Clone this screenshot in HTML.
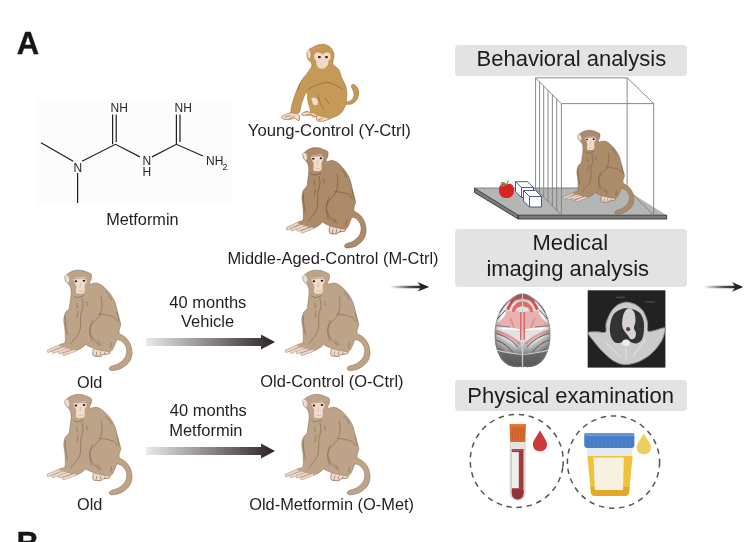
<!DOCTYPE html>
<html><head><meta charset="utf-8">
<style>
html,body{margin:0;padding:0;background:#fff;width:750px;height:542px;overflow:hidden}
svg{display:block;will-change:transform}
text{font-family:"Liberation Sans",sans-serif;fill:#231f20}
.lb{font-size:16.3px}
.bx{font-size:22px;fill:#1c1c1c}
</style></head><body>
<svg width="750" height="542" viewBox="0 0 750 542">
<defs>
 <linearGradient id="ag" x1="0" x2="1" y1="0" y2="0">
  <stop offset="0" stop-color="#ebe9e9"/><stop offset="1" stop-color="#2a2223"/>
 </linearGradient>
 <linearGradient id="ag2" x1="0" x2="1" y1="0" y2="0">
  <stop offset="0" stop-color="#f4f4f4"/><stop offset="0.5" stop-color="#555"/><stop offset="0.75" stop-color="#2a2a2a"/><stop offset="1" stop-color="#1a1a1a"/>
 </linearGradient>
 <g id="monkey">
<path fill="var(--mb)" stroke="var(--ml)" stroke-width="0.6" d="M69.3,272.7 C70.7,271.9 72.6,271.0 74.3,270.6 C76.0,270.2 78.0,270.1 79.7,270.2 C81.4,270.3 82.8,270.5 84.3,271.0 C85.8,271.5 87.8,272.4 89.0,273.0 C90.2,273.6 90.9,273.4 91.3,274.3 C91.7,275.2 91.6,277.4 91.3,278.7 C91.0,280.0 89.9,281.1 89.7,282.0 C89.5,282.9 88.9,283.8 90.0,284.0 C91.1,284.2 94.2,282.8 96.1,283.0 C98.0,283.2 99.8,284.0 101.6,285.2 C103.4,286.4 105.4,288.4 107.1,290.2 C108.8,291.9 110.2,293.7 111.5,295.7 C112.8,297.7 114.0,299.9 114.9,302.3 C115.8,304.7 116.4,307.3 117.1,310.1 C117.8,312.9 118.7,316.5 119.3,318.9 C119.9,321.3 120.8,322.8 120.8,324.5 C120.8,326.2 119.6,327.5 119.4,329.0 C119.2,330.5 118.5,332.0 119.4,333.3 C120.3,334.6 123.2,335.5 124.9,337.0 C126.6,338.5 128.3,340.4 129.5,342.5 C130.7,344.6 131.5,347.4 131.8,349.9 C132.1,352.4 132.1,355.0 131.4,357.3 C130.7,359.6 129.4,361.9 127.7,363.7 C126.0,365.5 123.4,367.3 121.2,368.4 C119.0,369.5 116.6,369.9 114.8,370.2 C113.0,370.5 111.5,370.7 110.6,370.4 C109.7,370.1 109.0,368.9 109.2,368.2 C109.4,367.5 110.0,366.9 111.5,366.1 C113.0,365.4 116.3,364.9 118.4,363.7 C120.5,362.5 122.6,360.9 124.0,359.1 C125.4,357.3 126.4,354.9 126.7,352.7 C127.0,350.5 126.6,348.0 125.8,346.2 C125.0,344.4 123.5,342.7 122.1,341.6 C120.7,340.5 118.6,339.7 117.5,339.8 C116.4,339.9 116.5,341.0 115.7,342.5 C114.9,344.0 113.8,347.5 112.9,349.0 C112.0,350.5 111.0,350.7 110.4,351.5 C109.8,352.3 110.6,353.1 109.2,353.6 C107.8,354.2 103.2,354.3 101.8,354.8 C100.4,355.3 102.3,356.3 100.9,356.4 C99.5,356.5 94.8,356.5 93.5,355.6 C92.2,354.7 93.1,352.0 93.1,350.8 C93.1,349.6 94.3,349.3 93.5,348.5 C92.7,347.7 89.3,346.6 88.0,346.0 C86.7,345.4 86.3,344.5 85.6,344.6 C84.9,344.7 84.8,345.8 83.6,346.6 C82.4,347.5 79.9,349.1 78.5,349.7 C77.1,350.3 76.8,350.7 75.0,350.5 C73.2,350.3 70.3,349.3 68.0,348.5 C65.7,347.7 62.3,346.2 61.0,345.5 C59.7,344.8 59.4,345.0 60.0,344.5 C60.6,344.0 63.9,344.1 64.8,342.6 C65.7,341.1 65.3,338.1 65.3,335.5 C65.3,332.9 65.0,329.9 64.8,327.3 C64.5,324.8 63.7,322.6 63.8,320.2 C63.9,317.8 64.4,315.0 65.3,313.1 C66.2,311.2 68.2,310.3 68.9,309.1 C69.6,307.9 69.2,308.2 69.6,305.9 C69.9,303.6 70.8,298.2 71.0,295.5 C71.2,292.8 71.2,291.3 71.0,289.6 C70.8,287.9 70.2,286.3 69.6,285.2 C69.0,284.1 68.1,283.7 67.4,283.0 C66.7,282.3 65.9,281.9 65.5,280.8 C65.1,279.7 64.7,277.4 64.8,276.5 C64.9,275.6 65.2,275.9 66.0,275.3 C66.8,274.7 67.9,273.5 69.3,272.7 Z"/>
<path fill="#f0dccf" d="M73.7,278.4 C74.4,277.9 77.5,277.7 79.0,277.6 C80.5,277.5 84.1,276.8 85.1,277.3 C86.1,277.8 86.7,280.4 86.6,281.5 C86.5,282.6 85.0,283.8 84.7,285.2 C84.4,286.6 85.1,291.1 84.6,292.2 C84.1,293.3 81.8,293.7 80.7,293.8 C79.6,293.9 76.8,293.9 76.2,292.8 C75.6,291.7 76.5,287.4 76.2,285.9 C75.9,284.4 74.3,282.5 74.0,281.5 C73.7,280.5 73.0,278.9 73.7,278.4 Z"/>
<path fill="#f0dccf" d="M65.0,275.6 C65.2,274.9 67.2,275.3 67.8,275.8 C68.4,276.3 69.2,278.1 69.3,279.0 C69.4,279.9 68.9,282.5 68.5,282.8 C68.1,283.1 66.5,282.0 66.0,281.0 C65.5,280.0 64.8,276.3 65.0,275.6 Z"/>
<g stroke-linecap="round" fill="none"><path stroke="var(--ml)" stroke-width="3.2" opacity="0.7" d="M61,345.5 L48.4,351 M66.3,347.1 L53.2,352 M70,348.7 L59.6,352.4 M74.9,350.3 L63.9,354.3"/><path stroke="#ecd5c6" stroke-width="2.2" d="M61,345.5 L48.4,351 M66.3,347.1 L53.2,352 M70,348.7 L59.6,352.4 M74.9,350.3 L63.9,354.3"/></g>
<path fill="var(--mb)" d="M58.5,345.5 C62,342.5 70,343 78,346 C80,347 80,349 77,350 C72,350 66,348.5 58.5,345.5 Z" opacity="0.85"/>
<path fill="#f0dccf" stroke="var(--ml)" stroke-width="0.5" d="M93.5,348.8 C94.2,348.7 98.4,349.9 100.0,350.2 C101.6,350.5 108.3,351.5 109.2,351.8 C110.1,352.1 109.9,353.3 109.2,353.6 C108.5,353.9 102.6,354.5 101.8,354.8 C101.0,355.1 101.7,356.1 100.9,356.2 C100.1,356.3 94.3,356.1 93.5,355.6 C92.7,355.1 93.1,351.5 93.1,350.8 C93.1,350.1 92.8,348.9 93.5,348.8 Z"/>
<path stroke="var(--ml)" stroke-width="0.7" fill="none" d="M96,355.5 L97,351.5 M100,355 L101,351.5 M104.5,354.5 L105,352"/>
<path stroke="var(--ml)" stroke-width="0.8" fill="none" d="M101.2,296.5 C101.3,298.1 102.2,303.0 102.0,306.1 C101.8,309.2 100.8,312.6 99.7,315.0 C98.6,317.4 96.7,318.6 95.2,320.5 C93.7,322.4 91.7,324.1 90.8,326.1 C89.9,328.1 89.5,330.1 89.7,332.7 C89.9,335.3 91.5,340.1 91.9,341.6 M98.5,313.9 C99.8,314.1 103.7,314.4 106.3,315.0 C108.9,315.6 112.2,316.1 114.0,317.2 C115.8,318.3 116.8,320.9 117.4,321.7 M81.9,298.4 C82.1,299.7 83.2,303.3 83.0,306.1 C82.8,308.9 81.2,311.4 80.8,315.0 C80.4,318.6 80.9,324.8 80.4,328.0 C79.9,331.2 79.3,332.1 78.0,334.4 C76.7,336.7 73.6,340.0 72.4,341.6 C71.2,343.2 71.1,343.6 70.8,344.0 M92.4,320.0 C92.0,321.3 90.3,325.6 90.0,328.0 C89.7,330.4 90.1,332.4 90.8,334.4 C91.5,336.4 92.5,338.1 94.0,340.0 C95.5,341.9 98.7,344.7 99.6,345.6 M97.2,340.0 C97.9,340.9 100.5,344.7 101.2,345.6 M73.0,295.5 C73.7,295.8 75.2,297.5 77.0,297.5 C78.8,297.5 82.9,295.9 84.1,295.6 M105.5,291.5 C106.1,292.2 108.0,294.1 109.0,295.5 C110.0,296.9 111.1,299.2 111.5,300.0 M65.3,316.0 C65.4,317.7 65.4,322.8 65.8,326.0 C66.2,329.2 67.2,333.5 67.5,335.0 M76.5,303.0 C76.7,303.8 77.3,307.2 77.5,308.0 M78.0,311.0 C77.8,312.2 77.2,316.8 77.0,318.0 M86.5,301.0 C86.7,301.8 87.3,305.2 87.5,306.0 M117.0,312.0 C117.2,313.0 118.1,316.3 118.5,318.0 C118.9,319.7 119.3,321.3 119.5,322.0 M111.5,342.4 C111.3,343.3 110.7,347.1 110.5,348.0"/>
<ellipse cx="75.9" cy="281.3" rx="1.3" ry="1" fill="#2a2020"/><ellipse cx="84" cy="280.8" rx="1.3" ry="1" fill="#2a2020"/>
<path stroke="#c9a896" stroke-width="0.6" fill="none" d="M78,290.5 C80,291.5 82,291.5 83.5,290.5 M80.5,282.5 L80,287.5"/>
<path stroke="var(--mb)" stroke-width="1.3" fill="none" opacity="0.9" d="M73.8,278.9 C77,278.2 82,277.8 86.3,278.3"/>
 </g>
</defs>

<!-- A label -->
<text x="16.7" y="53.7" style="font-size:31px;font-weight:bold;fill:#161616;stroke:#161616;stroke-width:0.35;stroke-linejoin:round">A</text>

<!-- metformin molecule -->
<rect x="37" y="98.6" width="194" height="106.6" fill="#fcfcfc"/>
<g stroke="#231f20" stroke-width="1.2" fill="none">
 <path d="M41,142.7 L73.2,161.3"/>
 <path d="M77.6,173 L77.6,203"/>
 <path d="M82,161.3 L115.5,144.3 L139.9,156.9"/>
 <path d="M152,156.9 L176.4,144.3 L203,156"/>
 <path d="M112.6,114.4 V144.3 M116.2,114.4 V142"/>
 <path d="M176.4,114.4 V144.3 M180,114.4 V142"/>
</g>
<g style="font-size:12px">
 <text x="73.5" y="171.5">N</text>
 <text x="110.5" y="112.2">NH</text>
 <text x="174.5" y="112.2">NH</text>
 <text x="142.5" y="165.3">N</text>
 <text x="142.5" y="176">H</text>
 <text x="206" y="165.3">NH</text>
 <text x="222.6" y="169.6" style="font-size:9px">2</text>
</g>
<text class="lb" x="106.2" y="225.4">Metformin</text>

<!-- monkeys -->
<use href="#monkey" style="--mb:#bda387;--ml:#8e7259"/>
<use href="#monkey" transform="translate(238,0)" style="--mb:#bda387;--ml:#8e7259"/>
<use href="#monkey" transform="translate(0,124.3)" style="--mb:#bda387;--ml:#8e7259"/>
<use href="#monkey" transform="translate(238,124.3)" style="--mb:#bda387;--ml:#8e7259"/>
<use href="#monkey" transform="translate(302.5,-122.5) scale(0.94,1) translate(-64.4,0)" style="--mb:#ad8a68;--ml:#7a5d43"/>

<!-- labels -->
<text class="lb" x="247.8" y="135.8" style="font-size:16.7px">Young-Control (Y-Ctrl)</text>
<text class="lb" x="227.6" y="263.5" style="font-size:16.45px">Middle-Aged-Control (M-Ctrl)</text>
<text class="lb" x="77" y="387.6">Old</text>
<text class="lb" x="169.3" y="307.5" style="font-size:16.5px">40 months</text>
<text class="lb" x="181" y="326.8" style="font-size:16.5px">Vehicle</text>
<text class="lb" x="260.2" y="387.4" style="font-size:16.45px">Old-Control (O-Ctrl)</text>
<text class="lb" x="169.8" y="416.2" style="font-size:16.5px">40 months</text>
<text class="lb" x="169.2" y="435.8" style="font-size:16.5px">Metformin</text>
<text class="lb" x="77" y="510.4">Old</text>
<text class="lb" x="249.2" y="510.4" style="font-size:16.4px">Old-Metformin (O-Met)</text>

<!-- arrows -->
<path d="M146,338 H261 V334.4 L275,342 L261,349.6 V346 H146 Z" fill="url(#ag)"/>
<path d="M146,447 H261 V443.4 L275,451 L261,458.6 V455 H146 Z" fill="url(#ag)"/>
<path d="M391,285.7 H420 L417.6,282.1 L429.2,286.9 L417.6,291.6 L420,288.2 H391 Z" fill="url(#ag2)"/>
<path d="M705,285.7 H734.5 L732,282.1 L743.2,286.9 L732,291.8 L734.5,288.2 H705 Z" fill="url(#ag2)"/>

<!-- boxes -->
<rect x="455" y="45" width="232" height="31" rx="4" fill="#e3e3e3"/>
<text class="bx" x="476.6" y="66.3">Behavioral analysis</text>
<rect x="455" y="229" width="232" height="58" rx="4" fill="#e3e3e3"/>
<text class="bx" x="532.4" y="249.5">Medical</text>
<text class="bx" x="486.4" y="276">imaging analysis</text>
<rect x="455" y="380" width="232" height="31" rx="4" fill="#e3e3e3"/>
<text class="bx" x="467.3" y="403.3">Physical examination</text>


<!-- behavioral cage -->
<g id="cage">
 <path d="M474.5,188.2 L623.5,188.2 L666.7,215.2 L518.2,215.2 Z" fill="#b4b6b5"/>
 <path d="M474.5,188.2 L623.5,188.2" stroke="#8a8a8a" stroke-width="1.2"/>
 <path d="M474.5,188.2 L518.2,215.2 L666.7,215.2 L666.7,219 L518.2,219 L474.5,192.5 Z" fill="#7b7b7b" stroke="#333" stroke-width="0.9" stroke-linejoin="round"/>
 <path d="M518.2,215.2 V219" stroke="#222" stroke-width="1"/>
 <!-- apple -->
 <path d="M506.5,184.5 C503,182.5 499,184 499,190 C499,196 503,198.5 506.5,198 C510,198.5 514,196 514,190 C514,184 510,182.5 506.5,184.5 Z" fill="#d42424"/>
 <path d="M501,187 C502,185 504,185 505,186" stroke="#f07070" stroke-width="1" fill="none"/>
 <path d="M506.5,184.5 C505,182 502,181.5 500.5,182.5 C502,184.5 504.5,185 506.5,184.5 Z" fill="#5aa03a"/>
 <path d="M506.5,184.5 L508.5,180.5" stroke="#4a8a2a" stroke-width="1"/>
 <!-- cubes -->
 <g fill="#fff" stroke="#3d4a78" stroke-width="0.9" stroke-linejoin="round">
  <path d="M515.5,181.7 L527.5,181.7 L533.5,187.5 L533.5,197.5 L521.5,197.5 L515.5,191.7 Z"/>
  <path d="M515.5,181.7 L521.5,187.5 L533.5,187.5 M521.5,187.5 V197.5" fill="none"/>
  <path d="M523.5,190.5 L535.5,190.5 L541.5,196.5 L541.5,207 L529.5,207 L523.5,201 Z"/>
  <path d="M523.5,190.5 L529.5,196.5 L541.5,196.5 M529.5,196.5 V207" fill="none"/>
 </g>
 <!-- cage lines -->
 <g stroke="#7c7c7c" stroke-width="0.9" fill="none">
  <path d="M535.3,77.8 H627.1 L653.8,103.6 H561.4 Z"/>
  <path d="M627.1,77.8 V188.3 L653.6,215.2 M653.7,103.6 V215.2"/>
  <path d="M535.6,78.1 V188.6 M539.6,82.1 V192.7 M543.7,86.1 V197.0 M548.0,90.4 V201.4 M552.4,94.7 V206.0 M556.7,99.0 V210.4 M561.4,103.6 V215.3"/>
  <path d="M535.3,188.3 L561.4,215.2"/>
 </g>
</g>
<use href="#monkey" transform="translate(563.5,130.6) scale(0.835) translate(-47.8,-270.5)" style="--mb:#ac8b6a;--ml:#7f634a"/>

<!-- brain -->
<g id="brain">
 <defs>
  <clipPath id="hemi"><path d="M522.0,293.3 C521.2,293.5 519.2,293.7 517.5,294.5 C515.8,295.3 513.5,296.5 511.5,298.0 C509.5,299.5 507.3,301.5 505.5,303.5 C503.7,305.5 501.9,307.6 500.5,310.0 C499.1,312.4 497.9,315.2 497.0,318.0 C496.1,320.8 495.4,324.0 495.0,327.0 C494.6,330.0 494.5,333.0 494.6,336.0 C494.7,339.0 494.9,342.2 495.5,345.0 C496.1,347.8 496.9,350.5 498.0,353.0 C499.1,355.5 500.3,358.0 502.0,360.0 C503.7,362.0 505.8,363.8 508.0,365.0 C510.2,366.2 512.7,366.7 515.0,367.0 C517.3,367.3 520.7,367.0 521.8,367.0 Z"/></clipPath>
  <linearGradient id="bbot" x1="0" y1="0" x2="0" y2="1"><stop offset="0" stop-color="#9a9a9a"/><stop offset="1" stop-color="#555"/></linearGradient>
  <radialGradient id="bshade" gradientUnits="userSpaceOnUse" cx="519" cy="322" r="32"><stop offset="0.55" stop-color="#555" stop-opacity="0"/><stop offset="1" stop-color="#555" stop-opacity="0.65"/></radialGradient>
 </defs>
 <g id="lh" clip-path="url(#hemi)">
  <path d="M522.0,293.3 C521.2,293.5 519.2,293.7 517.5,294.5 C515.8,295.3 513.5,296.5 511.5,298.0 C509.5,299.5 507.3,301.5 505.5,303.5 C503.7,305.5 501.9,307.6 500.5,310.0 C499.1,312.4 497.9,315.2 497.0,318.0 C496.1,320.8 495.4,324.0 495.0,327.0 C494.6,330.0 494.5,333.0 494.6,336.0 C494.7,339.0 494.9,342.2 495.5,345.0 C496.1,347.8 496.9,350.5 498.0,353.0 C499.1,355.5 500.3,358.0 502.0,360.0 C503.7,362.0 505.8,363.8 508.0,365.0 C510.2,366.2 512.7,366.7 515.0,367.0 C517.3,367.3 520.7,367.0 521.8,367.0 Z" fill="#e2e2e2"/>
  <path d="M504.0,312.0 C506.0,311.1 511.6,310.7 514.0,311.0 C516.4,311.3 520.9,311.3 522.0,314.0 C523.1,316.7 523.3,328.9 522.0,331.0 C520.7,333.1 514.7,329.9 512.0,329.5 C509.3,329.1 503.9,328.6 502.0,328.0 C500.1,327.4 497.9,326.3 497.5,325.0 C497.1,323.7 498.1,319.7 499.0,318.0 C499.9,316.3 502.0,312.9 504.0,312.0 Z" fill="#e9b0b0"/>
  <path d="M522.0,294.0 C521.4,293.6 518.2,294.9 517.0,295.5 C515.8,296.1 513.0,298.1 512.0,299.0 C511.0,299.9 509.1,302.3 508.5,303.5 C507.9,304.7 506.4,308.2 506.5,309.0 C506.6,309.8 508.4,310.5 509.0,310.0 C509.6,309.5 510.8,306.1 511.5,305.0 C512.2,303.9 513.8,301.3 515.0,300.5 C516.2,299.7 521.2,299.3 522.0,298.5 C522.8,297.7 522.6,294.4 522.0,294.0 Z" fill="#e2504e"/>
  <path d="M522.0,301.5 C521.4,301.1 518.0,302.4 517.0,303.0 C516.0,303.6 513.6,306.0 513.0,307.0 C512.4,308.0 511.8,310.9 512.0,311.5 C512.2,312.1 513.9,312.4 514.5,312.0 C515.1,311.6 516.1,308.7 517.0,308.0 C517.9,307.3 521.4,306.8 522.0,306.0 C522.6,305.2 522.6,301.9 522.0,301.5 Z" fill="#e46a68"/>
  <path d="M520.8,312 V340" stroke="#e46464" stroke-width="1.6"/>
  <path d="M510,318 C512,322 513,325 514,328" stroke="#d48c8c" stroke-width="1.4" fill="none"/>
  <g stroke="#fafafa" stroke-width="2.2" fill="none" stroke-linecap="round">
   <path d="M500.5,316 C503,311 506,306 509,302"/>
   <path d="M497.5,322 C500,320 503,317 505,313"/>
   <path d="M496.5,328.5 C503,328 511,328.5 519,330"/>
   <path d="M497,335.5 C504,337.5 511,342 515.5,348"/>
   <path d="M497.5,343 C503,345 508,350 511.5,356"/>
  </g>
  <path d="M495.5,331 C504,332.5 512,337 520,344" stroke="#e39c9c" stroke-width="2.6" fill="none"/>
  <path d="M494.8,349.0 C495.3,348.8 499.7,351.0 502.0,351.5 C504.3,352.0 509.3,352.7 512.0,353.0 C514.7,353.3 520.7,352.1 522.0,354.0 C523.3,355.9 522.9,365.3 522.0,367.0 C521.1,368.7 516.9,367.3 515.0,367.0 C513.1,366.7 509.7,365.9 508.0,365.0 C506.3,364.1 503.3,361.6 502.0,360.0 C500.7,358.4 499.0,354.5 498.0,353.0 C497.0,351.5 494.3,349.2 494.8,349.0 Z" fill="url(#bbot)"/>
  <rect x="490" y="290" width="33" height="80" fill="url(#bshade)"/>
  <path d="M522.0,293.3 C521.2,293.5 519.2,293.7 517.5,294.5 C515.8,295.3 513.5,296.5 511.5,298.0 C509.5,299.5 507.3,301.5 505.5,303.5 C503.7,305.5 501.9,307.6 500.5,310.0 C499.1,312.4 497.9,315.2 497.0,318.0 C496.1,320.8 495.4,324.0 495.0,327.0 C494.6,330.0 494.5,333.0 494.6,336.0 C494.7,339.0 494.9,342.2 495.5,345.0 C496.1,347.8 496.9,350.5 498.0,353.0 C499.1,355.5 500.3,358.0 502.0,360.0 C503.7,362.0 505.8,363.8 508.0,365.0 C510.2,366.2 512.7,366.7 515.0,367.0 C517.3,367.3 520.7,367.0 521.8,367.0" fill="none" stroke="#7a7a7a" stroke-width="3" opacity="0.5"/>
  <g stroke="#5a5a5a" stroke-width="1" fill="none">
   <path d="M499.5,312.5 C502,308.5 505,304.5 508,300.5"/>
   <path d="M497,319 C500,316 503,313.5 505.5,310"/>
   <path d="M496,333.5 C504,335.5 512,340 518,347"/>
   <path d="M496,340 C503,342.5 509,347 514,354"/>
   <path d="M498,348.5 C503,350.5 507,354 510,359"/>
   <path d="M495,325.5 C500,326 505,326.5 510,327" stroke="#808080"/>
  </g>
  <path d="M496,350 C503,352 512,353.5 522,354.5" stroke="#c8c8c8" stroke-width="1.2" fill="none"/>
 </g>
 <use href="#lh" transform="translate(1045,0) scale(-1,1)"/>
 <path d="M522.5,294 V367" stroke="#9a9a9a" stroke-width="0.5"/>
</g>

<!-- CT -->
<g id="ct" transform="translate(587.7,290.3)">
 <rect x="0" y="0" width="77.7" height="77.3" fill="#222"/>
 <path d="M0.3,42.4 C0.8,41.2 7.1,41.6 9.5,41.5 C11.8,41.4 16.7,43.0 17.9,41.8 C19.1,40.7 17.7,35.6 18.4,32.9 C19.1,30.2 21.7,23.9 23.3,21.4 C24.8,19.0 28.1,15.8 30.2,14.5 C32.2,13.3 36.2,11.8 38.6,11.8 C40.9,11.8 45.5,13.1 47.8,14.2 C50.0,15.4 53.8,18.4 55.4,20.7 C57.0,23.0 59.1,28.7 59.7,31.4 C60.4,34.1 59.3,39.7 60.3,40.9 C61.4,42.0 65.4,40.4 67.7,40.0 C69.9,39.6 76.2,36.7 77.2,37.8 C78.2,38.9 76.1,45.6 75.0,48.2 C74.0,50.9 71.0,55.2 69.2,57.4 C67.4,59.7 64.0,63.2 61.6,65.1 C59.1,67.0 53.5,70.3 50.8,71.5 C48.2,72.7 43.9,73.6 41.7,74.0 C39.4,74.3 36.2,74.5 34.0,74.0 C31.8,73.4 27.5,71.8 24.8,70.0 C22.2,68.2 16.6,63.1 14.1,60.5 C11.5,57.9 7.5,52.9 5.7,50.5 C3.8,48.1 -0.2,43.6 0.3,42.4 Z" fill="#cbcbcb"/>
 <path d="M0.3,42.4 C0.8,41.2 7.1,41.6 9.5,41.5 C11.8,41.4 16.7,43.0 17.9,41.8 C19.1,40.7 17.7,35.6 18.4,32.9 C19.1,30.2 21.7,23.9 23.3,21.4 C24.8,19.0 28.1,15.8 30.2,14.5 C32.2,13.3 36.2,11.8 38.6,11.8 C40.9,11.8 45.5,13.1 47.8,14.2 C50.0,15.4 53.8,18.4 55.4,20.7 C57.0,23.0 59.1,28.7 59.7,31.4 C60.4,34.1 59.3,39.7 60.3,40.9 C61.4,42.0 65.4,40.4 67.7,40.0 C69.9,39.6 76.2,36.7 77.2,37.8 C78.2,38.9 76.1,45.6 75.0,48.2 C74.0,50.9 71.0,55.2 69.2,57.4 C67.4,59.7 64.0,63.2 61.6,65.1 C59.1,67.0 53.5,70.3 50.8,71.5 C48.2,72.7 43.9,73.6 41.7,74.0 C39.4,74.3 36.2,74.5 34.0,74.0 C31.8,73.4 27.5,71.8 24.8,70.0 C22.2,68.2 16.6,63.1 14.1,60.5 C11.5,57.9 7.5,52.9 5.7,50.5 C3.8,48.1 -0.2,43.6 0.3,42.4 Z" fill="none" stroke="#8a8a8a" stroke-width="0.9"/>
 <path d="M23.0,31.4 C23.7,28.5 24.7,25.5 26.3,23.4 C28.0,21.4 30.7,20.1 32.8,19.1 C34.8,18.2 36.4,17.9 38.6,17.9 C40.8,17.9 43.6,18.3 45.9,19.1 C48.2,20.0 50.7,21.1 52.4,23.0 C54.0,24.9 55.3,27.7 55.9,30.6 C56.5,33.6 56.5,37.4 56.2,40.6 C55.9,43.8 55.2,47.7 53.9,49.8 C52.6,51.9 50.6,52.9 48.5,53.1 C46.5,53.4 43.3,52.0 41.7,51.3 C40.0,50.6 39.7,49.1 38.6,49.2 C37.4,49.2 36.5,51.0 34.8,51.6 C33.0,52.2 30.0,53.1 28.2,52.5 C26.4,51.9 25.0,49.9 24.0,47.9 C23.0,45.9 22.4,43.3 22.2,40.6 C22.0,37.8 22.3,34.3 23.0,31.4 Z" fill="#333"/>
 <path d="M42.0,17.9 C43.5,18.2 45.6,20.1 46.6,22.2 C47.5,24.3 47.8,28.0 47.8,30.6 C47.7,33.2 46.2,35.9 46.2,37.8 C46.3,39.8 48.1,40.8 48.2,42.4 C48.4,44.0 48.0,46.4 47.2,47.5 C46.3,48.6 44.3,49.3 43.2,49.0 C42.1,48.7 41.6,46.8 40.6,45.6 C39.6,44.4 38.4,43.4 37.4,41.8 C36.4,40.2 35.0,38.4 34.6,36.0 C34.2,33.6 34.5,30.1 34.9,27.6 C35.4,25.0 36.2,22.3 37.4,20.7 C38.5,19.1 40.4,17.7 42.0,17.9 Z" fill="#d4d4d4"/>
 <circle cx="40.4" cy="38.9" r="2.1" fill="#6a3e30"/>
 <ellipse cx="38.3" cy="52.5" rx="3.8" ry="3.2" fill="#eeeeee"/>
 <path d="M38.3,56 V70 M18,52 L33,67 M58,49 L45,66" stroke="#e0e0e0" stroke-width="1.1" fill="none"/>
 <g stroke="#4a4a4a" stroke-width="0.5" fill="none"><path d="M25,35 L28,38 M50,36 L52,40 M26,45 L30,44"/></g>
 <rect x="28" y="6.3" width="9" height="1.6" fill="#444"/><rect x="57" y="10.8" width="10" height="1.6" fill="#444"/>
</g>

<!-- physical exam circles -->
<circle cx="516.75" cy="460.9" r="46.5" fill="none" stroke="#555" stroke-width="1.5" stroke-dasharray="5.5 4.7" transform="rotate(8 516.75 460.9)"/>
<circle cx="613.5" cy="462.1" r="46.1" fill="none" stroke="#555" stroke-width="1.5" stroke-dasharray="5.5 4.7"/>
<!-- tube -->
<g id="tube">
 <path d="M510.2,441.5 H525.1 V492.6 C525.1,497 521.8,500.3 517.65,500.3 C513.5,500.3 510.2,497 510.2,492.6 Z" fill="#e2e2e2" stroke="#c9c9c9" stroke-width="0.8"/>
 <path d="M511.8,449 H523.5 V493 C523.5,496.8 521,499.3 517.65,499.3 C514.3,499.3 511.8,496.8 511.8,493 Z" fill="#a23b3b"/>
 <path d="M511.8,490 H523.5 V493 C523.5,496.8 521,499.3 517.65,499.3 C514.3,499.3 511.8,496.8 511.8,493 Z" fill="#933232"/>
 <rect x="511.8" y="449" width="11.7" height="2" fill="#b24c4c"/>
 <rect x="511.8" y="452.1" width="7" height="36.1" fill="#f1efe9"/>
 <path d="M509.7,424 H525.9 V426.5 L525.3,441.9 H510.2 L509.7,426.5 Z" fill="#d86a2e"/>
 <rect x="509.7" y="423.9" width="16.2" height="2.6" fill="#e47a3c"/>
 <path d="M512.5,428 V440 M515.3,428 V440 M518.1,428 V440 M520.9,428 V440 M523.5,428 V440" stroke="#c45a22" stroke-width="0.7"/>
 <path d="M540,430.2 C537.5,435.5 532.9,440 532.9,444.5 C532.9,448.5 536,451.3 540,451.3 C544,451.3 547,448.5 547,444.5 C547,440 542.5,435.5 540,430.2 Z" fill="#cc3a3a"/>
</g>
<!-- cup -->
<g id="cup">
 <path d="M586.9,447.5 H632.6 L632.4,456 H587.2 Z" fill="#e6eaee"/>
 <path d="M587.4,456 H632.6 L629.2,492 C629,495 627,496 624.5,496 H595.5 C593,496 591,495 590.8,492 Z" fill="#f0c23c"/>
 <path d="M590.4,487 H629.6 L629.2,492 C629,495 627,496 624.5,496 H595.5 C593,496 591,495 590.8,492 Z" fill="#e5a72a"/>
 <path d="M593.5,457.5 H623.8 L623,490 H594.8 Z" fill="#f6f1e0"/>
 <rect x="584.2" y="433.1" width="50.2" height="14.8" rx="3" fill="#4a7fc9"/>
 <rect x="584.2" y="433.1" width="50.2" height="3.2" rx="1.6" fill="#6296dc"/>
 <path d="M588,437 V447 M592,437 V447 M596,437 V447 M600,437 V447 M604,437 V447 M608,437 V447 M612,437 V447 M616,437 V447 M620,437 V447 M624,437 V447 M628,437 V447 M632,437 V447" stroke="#3f72ba" stroke-width="0.6"/>
 <path d="M643.8,433.1 C641.5,438.5 636.7,443 636.7,447.5 C636.7,451.5 639.8,454.5 643.85,454.5 C647.9,454.5 651,451.5 651,447.5 C651,443 646.2,438.5 643.8,433.1 Z" fill="#ebd05e"/>
</g>

<!-- young monkey -->
<g id="young">
<path fill="#c59a58" stroke="#a07338" stroke-width="0.6" d="M325.1,44.5 C327.0,44.9 328.7,45.8 330.0,46.9 C331.3,48.0 332.2,49.5 332.9,51.0 C333.6,52.5 334.0,54.0 334.0,55.9 C334.0,57.8 332.9,60.8 332.9,62.4 C332.9,64.0 333.0,64.4 334.0,65.6 C335.0,66.8 337.6,67.6 338.9,69.7 C340.2,71.8 340.8,75.5 341.8,78.0 C342.9,80.5 344.4,82.3 345.2,84.7 C346.0,87.1 346.7,89.9 346.9,92.6 C347.1,95.3 346.2,99.5 346.5,101.0 C346.8,102.5 347.5,101.8 348.5,101.5 C349.5,101.2 351.6,100.4 352.5,99.3 C353.4,98.2 354.0,96.3 354.1,94.8 C354.2,93.3 353.5,91.7 353.0,90.3 C352.5,88.9 351.4,87.4 351.3,86.4 C351.2,85.4 351.8,84.7 352.5,84.5 C353.2,84.3 354.4,84.5 355.3,85.3 C356.2,86.1 357.6,87.6 358.1,89.2 C358.7,90.8 358.9,92.9 358.6,94.8 C358.3,96.7 357.5,98.9 356.4,100.4 C355.3,101.9 353.5,103.1 351.9,103.8 C350.2,104.5 347.5,104.3 346.5,104.5 C345.5,104.7 346.3,104.0 345.7,105.0 C345.1,106.0 344.2,108.8 343.0,110.5 C341.8,112.2 340.8,113.6 338.5,115.0 C336.2,116.4 332.1,117.9 329.5,118.9 C326.9,119.9 324.9,120.8 322.8,121.1 C320.8,121.4 318.3,121.3 317.2,120.6 C316.1,119.8 317.4,117.5 316.1,116.6 C314.8,115.7 311.6,115.2 309.4,115.0 C307.1,114.8 303.8,115.7 302.6,115.5 C301.4,115.3 301.5,114.5 302.1,113.8 C302.7,113.1 304.6,112.0 306.0,111.6 C307.4,111.2 310.1,113.1 310.5,111.6 C310.9,110.1 308.8,105.7 308.2,102.6 C307.6,99.5 307.7,94.3 307.1,93.0 C306.6,91.7 305.8,93.0 304.9,94.8 C304.0,96.6 302.4,101.0 301.5,103.8 C300.6,106.6 300.4,109.9 299.8,111.6 C299.2,113.3 297.7,113.0 297.6,113.8 C297.5,114.5 299.1,115.0 299.3,116.1 C299.5,117.2 299.4,120.2 298.7,120.6 C297.9,121.0 296.4,118.5 294.8,118.3 C293.2,118.1 291.1,119.3 289.2,119.4 C287.3,119.5 284.9,119.3 283.6,118.9 C282.3,118.5 281.2,117.9 281.4,117.2 C281.6,116.5 283.2,115.8 284.7,115.0 C286.2,114.2 289.2,114.0 290.3,112.7 C291.4,111.4 290.8,109.7 291.4,107.1 C292.0,104.5 293.1,100.3 294.2,97.0 C295.3,93.7 296.7,90.2 298.2,87.0 C299.7,83.8 302.0,80.0 303.2,78.0 C304.4,76.0 304.2,77.1 305.6,75.3 C307.0,73.5 310.4,69.2 311.3,67.2 C312.2,65.2 311.9,64.5 311.3,63.2 C310.8,61.9 308.7,60.7 308.0,59.1 C307.3,57.5 306.8,55.0 306.9,53.4 C307.0,51.8 307.9,50.3 308.8,49.4 C309.7,48.5 310.5,48.5 312.1,47.7 C313.7,46.9 316.4,45.3 318.6,44.8 C320.8,44.3 323.2,44.1 325.1,44.5 Z"/>
<path fill="#f2d8c8" d="M314.5,54.5 C314.8,53.7 316.2,52.8 317.0,52.6 C317.8,52.4 319.8,52.8 320.5,53.1 C321.2,53.4 322.0,54.6 322.5,54.6 C323.0,54.6 323.8,53.4 324.5,53.1 C325.2,52.8 327.2,52.4 328.0,52.6 C328.8,52.8 330.2,53.7 330.5,54.5 C330.8,55.3 330.6,57.6 330.3,58.5 C330.0,59.4 328.8,60.1 328.5,61.0 C328.2,61.9 328.3,64.0 327.8,65.0 C327.3,66.0 325.5,67.8 324.5,68.3 C323.5,68.8 321.0,68.8 320.0,68.4 C319.0,68.0 317.3,66.5 316.8,65.5 C316.3,64.5 316.5,61.9 316.2,61.0 C315.9,60.1 314.7,59.4 314.5,58.5 C314.3,57.6 314.2,55.3 314.5,54.5 Z"/>
<path fill="#f2d8c8" d="M307.3,50.5 C307.5,49.5 309.1,49.5 309.5,50.0 C309.9,50.5 310.4,52.9 310.5,54.0 C310.6,55.1 310.3,57.5 310.0,58.0 C309.7,58.5 308.6,58.5 308.2,57.5 C307.8,56.5 307.1,51.5 307.3,50.5 Z"/>
<path fill="#f2dccf" stroke="#b07a40" stroke-width="0.5" d="M290.3,113.0 C291.6,112.9 296.7,113.7 297.6,114.0 C298.5,114.3 299.2,115.4 299.3,116.1 C299.4,116.8 299.1,120.4 298.7,120.6 C298.2,120.8 295.8,118.4 294.8,118.3 C293.9,118.2 290.3,119.3 289.2,119.4 C288.1,119.5 284.4,119.1 283.6,118.9 C282.8,118.7 281.3,117.6 281.4,117.2 C281.5,116.8 283.8,115.4 284.7,115.0 C285.6,114.6 289.0,113.1 290.3,113.0 Z"/>
<path fill="#f2dccf" stroke="#b07a40" stroke-width="0.5" d="M302.1,113.8 C302.4,113.5 304.9,112.1 306.0,112.0 C307.1,111.9 311.6,112.6 313.0,113.0 C314.4,113.4 318.4,115.5 320.0,116.0 C321.6,116.5 329.2,118.0 329.5,118.5 C329.8,119.0 324.0,120.9 322.8,121.1 C321.6,121.3 317.9,121.0 317.2,120.6 C316.5,120.1 316.9,117.2 316.1,116.6 C315.3,116.0 310.8,115.1 309.4,115.0 C308.0,114.9 303.3,115.6 302.6,115.5 C301.9,115.4 301.8,114.1 302.1,113.8 Z"/>
<path fill="#f2dccf" d="M311.6,98.5 C311.9,97.7 315.1,97.7 316.0,98.2 C316.9,98.7 317.9,101.1 318.0,102.0 C318.1,102.9 317.6,104.7 317.0,105.0 C316.4,105.3 314.2,105.4 313.5,104.5 C312.8,103.6 311.3,99.3 311.6,98.5 Z"/>
<path stroke="#a07038" stroke-width="0.7" fill="none" d="M285,117 L291,115.5 M289,119 L295,116 M306,115 L312,114 M312,117 L318,116 M318,120 L323,118"/>
<path stroke="#9a6a30" stroke-width="0.8" fill="none" d="M307.1,90.3 C308.4,89.5 311.4,87.1 315.0,85.8 C318.6,84.5 323.7,81.9 328.4,82.5 C333.1,83.1 340.6,88.1 343.0,89.2 M318.3,94.8 C318.7,96.3 319.7,101.2 320.6,103.8 C321.6,106.4 323.4,109.4 324.0,110.5 M325.0,98.0 C325.7,99.0 328.3,103.0 329.0,104.0 M300.0,83.0 C299.7,84.2 298.3,88.8 298.0,90.0"/>
<ellipse cx="319.4" cy="57.1" rx="1.5" ry="1.2" fill="#2a2020"/><ellipse cx="326.5" cy="57.1" rx="1.5" ry="1.2" fill="#2a2020"/>
</g>

<!-- B label -->
<text x="16.6" y="553.8" style="font-size:31px;font-weight:bold;fill:#161616;stroke:#161616;stroke-width:0.35;stroke-linejoin:round">B</text>
</svg>
</body></html>
